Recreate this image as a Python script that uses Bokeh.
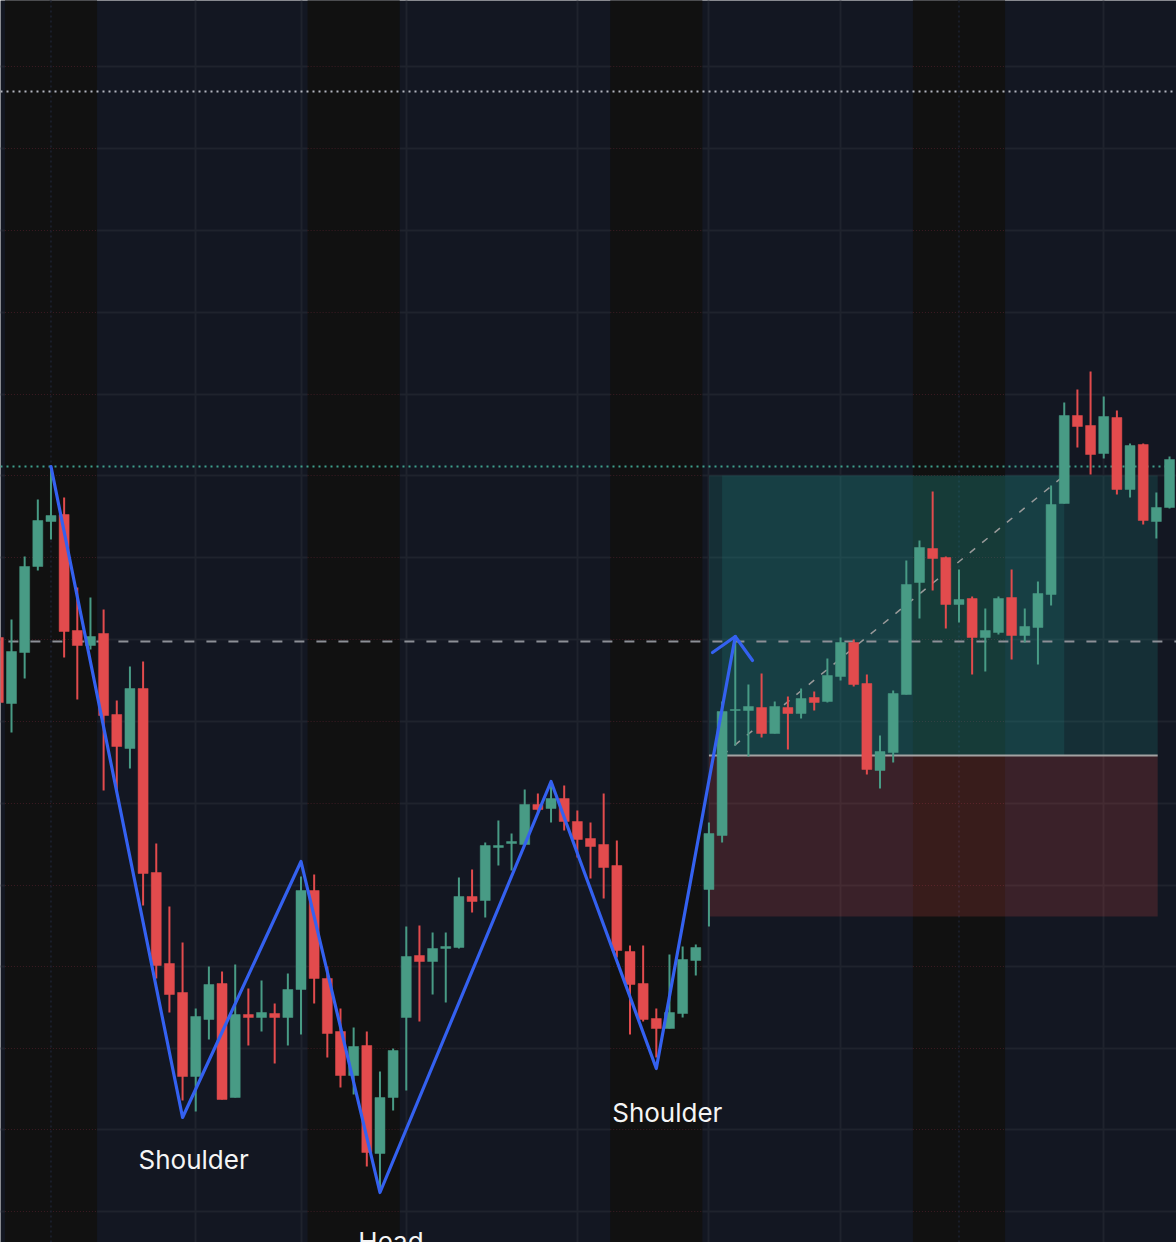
from bokeh.plotting import figure
from bokeh.models import Range1d, FixedTicker, ColumnDataSource
from bokeh.embed import file_html
from bokeh.resources import INLINE
from bokeh.core.properties import value

# ---------------- data ----------------
idx = list(range(-1, 89))
opens = [66.3, 59.7, 64.8, 73.4, 77.9, 78.6, 67.0, 65.5, 66.7, 58.6,
         55.2, 61.2, 42.8, 33.7, 30.8, 22.4, 28.1, 31.7, 20.3, 28.6,
         28.3, 28.7, 28.3, 31.1, 41.0, 32.2, 26.9, 22.5, 25.5, 14.7,
         20.3, 28.3, 34.5, 33.9, 35.2, 35.3, 40.4, 40.0, 45.3, 45.7,
         45.6, 49.6, 49.2, 50.2, 47.9, 46.2, 45.6, 43.5, 34.9, 31.7,
         28.2, 27.2, 28.7, 34.0, 41.1, 46.5, 59.0, 59.0, 59.3, 56.7,
         59.3, 58.7, 60.3, 59.9, 62.4, 65.8, 61.7, 53.0, 54.8, 60.6,
         71.8, 75.2, 74.3, 69.6, 70.2, 66.3, 66.8, 70.3, 66.5, 67.3,
         70.6, 79.7, 88.5, 87.5, 84.7, 88.3, 81.1, 85.6, 77.9, 79.3]
highs = [67.5, 68.1, 74.4, 80.1, 83.4, 80.3, 71.3, 70.3, 69.1, 60.0,
         63.4, 63.9, 45.7, 39.4, 35.8, 29.2, 33.4, 32.9, 33.6, 31.2,
         32.0, 29.7, 32.7, 42.4, 42.6, 33.4, 29.2, 27.3, 26.9, 22.9,
         25.2, 37.4, 37.5, 36.8, 36.8, 42.3, 43.1, 45.8, 48.0, 46.7,
         51.1, 50.7, 51.8, 51.5, 49.0, 47.8, 50.7, 46.0, 35.5, 35.5,
         29.2, 34.6, 35.4, 35.6, 47.8, 59.9, 66.5, 61.6, 62.7, 59.9,
         60.4, 61.2, 60.9, 64.2, 66.3, 66.1, 62.6, 56.5, 61.0, 74.0,
         76.0, 80.9, 74.4, 73.1, 70.4, 69.2, 70.4, 73.1, 69.2, 71.9,
         81.5, 89.8, 91.1, 92.9, 90.4, 89.0, 85.7, 85.7, 80.8, 84.4]
lows = [57.0, 56.8, 62.2, 73.0, 76.1, 64.3, 60.1, 65.1, 51.0, 50.8,
        53.2, 39.5, 32.2, 28.8, 20.0, 18.9, 26.1, 20.1, 20.3, 25.5,
        26.9, 23.7, 25.5, 26.6, 29.7, 24.3, 21.3, 20.6, 13.4, 10.9,
        19.0, 21.0, 27.9, 30.6, 29.8, 35.2, 38.8, 38.3, 43.5, 43.0,
        45.6, 48.7, 47.8, 47.0, 44.3, 42.2, 40.2, 34.3, 26.6, 27.9,
        24.3, 27.2, 28.3, 32.5, 37.4, 45.8, 55.5, 54.4, 56.3, 56.7,
        55.1, 58.2, 59.0, 59.8, 62.0, 61.4, 52.6, 51.2, 53.8, 60.6,
        68.2, 71.0, 67.2, 67.8, 62.6, 62.9, 66.6, 64.1, 65.8, 63.6,
        69.5, 79.7, 85.3, 82.6, 84.2, 80.6, 80.3, 77.6, 76.2, 79.2]
closes = [59.8, 64.9, 73.4, 78.0, 78.5, 66.9, 65.5, 66.4, 58.5, 55.4,
          61.2, 42.7, 33.5, 30.6, 22.4, 28.4, 31.6, 20.1, 28.6, 28.3,
          28.8, 28.3, 31.1, 41.0, 32.2, 26.7, 22.5, 25.4, 14.8, 20.3,
          25.0, 34.4, 33.9, 35.2, 35.4, 40.4, 39.9, 45.5, 45.5, 45.9,
          49.6, 49.1, 50.2, 47.9, 46.1, 45.4, 43.3, 35.0, 31.6, 28.1,
          27.2, 28.8, 34.1, 35.3, 46.7, 58.9, 59.1, 59.4, 56.7, 59.4,
          58.7, 60.2, 59.8, 62.5, 65.8, 61.6, 53.1, 54.9, 60.7, 71.6,
          75.3, 74.2, 69.6, 70.1, 66.3, 67.0, 70.2, 66.5, 67.4, 70.7,
          79.6, 88.5, 87.4, 84.6, 88.4, 81.1, 85.5, 78.0, 79.3, 84.1]

# zigzag pivots of the head & shoulders pattern
zz_idx = [3, 13, 22, 28, 41, 49, 55]
zz_price = [83.4, 18.3, 43.9, 10.8, 51.9, 23.2, 66.4]
arrow_idx = [53.27, 55.0, 56.31]
arrow_price = [64.8, 66.4, 64.0]

labels = ["Shoulder", "Head", "Shoulder"]
label_idx = [13, 28, 49]
label_price = [14.1, 5.9, 18.8]

# horizontal levels
level_high = 120.9
level_prior = 83.4
neckline = 65.9

# position box
box_left, box_right = 53, 87.1
inner_left, inner_right = 54, 80
target, entry, stop = 82.5, 54.5, 38.4

# session shading (candle index ranges)
band_start = [0, 23, 46, 69]
band_end = [6, 29, 52, 75]

# grid positions
vgrid_idx = [3, 14, 22, 30, 43, 53, 63, 72, 83]
hgrid_price = [123.4, 115.2, 107.0, 98.8, 90.6, 82.5, 74.3, 66.1, 57.9,
               49.7, 41.5, 33.4, 25.2, 17.1, 8.9]

# ---------------- styling ----------------
BG = "#131722"
BAND = "#111111"
UP = "#489b85"
DOWN = "#e24b4d"
GRID = "#1f232d"

x0, x1 = -0.836, 88.53
y0, y1 = 5.8, 130.0

p = figure(width=1176, height=1242, x_range=Range1d(x0, x1), y_range=Range1d(y0, y1),
           output_backend="svg", toolbar_location=None,
           x_axis_location=None, y_axis_location=None, min_border=0)
p.background_fill_color = BG
p.border_fill_color = BG
p.outline_line_color = None

p.xgrid.ticker = FixedTicker(ticks=vgrid_idx)
p.ygrid.ticker = FixedTicker(ticks=hgrid_price)
for g in (p.xgrid, p.ygrid):
    g.grid_line_color = GRID
    g.grid_line_width = 2

# dark session bands
bl = [s - 0.5 for s in band_start]
br = [e + 0.5 for e in band_end]
p.quad(left=bl, right=br, bottom=y0 - 10, top=y1 + 10, fill_color=BAND, line_color=None)

# dotted grid inside bands
hx0, hx1, hy = [], [], []
for a, b in zip(bl, br):
    for gp in hgrid_price:
        hx0.append(a); hx1.append(b); hy.append(gp)
p.segment(x0=hx0, y0=hy, x1=hx1, y1=hy, line_color="#3d1c24", line_width=1, line_dash="1 2")
vin = [v for v in vgrid_idx if any(a <= v <= b for a, b in zip(bl, br))]
p.segment(x0=vin, y0=[y0] * len(vin), x1=vin, y1=[y1] * len(vin),
          line_color="#1d2333", line_width=1.5, line_dash="2 3")

# position boxes
p.quad(left=[box_left], right=[box_right], bottom=[entry], top=[target],
       fill_color="#26a69a", fill_alpha=0.17, line_color=None)
p.quad(left=[inner_left], right=[inner_right], bottom=[entry], top=[target],
       fill_color="#26a69a", fill_alpha=0.14, line_color=None)
p.quad(left=[box_left], right=[box_right], bottom=[stop], top=[entry],
       fill_color="#ef5350", fill_alpha=0.18, line_color=None)
p.segment(x0=[box_left], y0=[entry], x1=[box_right], y1=[entry], line_color="#a3a3a3", line_width=2)
p.segment(x0=[inner_left], y0=[entry], x1=[inner_right], y1=[target],
          line_color="#9a9a9a", line_width=1.5, line_dash="7 9")

# horizontal levels
p.segment(x0=[x0], y0=[level_high], x1=[x1], y1=[level_high], line_color="#b2b5be", line_width=2, line_dash="2 4")
p.segment(x0=[x0], y0=[level_prior], x1=[x1], y1=[level_prior], line_color="#3e9f8c", line_width=2, line_dash="2 4")
p.segment(x0=[x0 + 0.6], y0=[neckline], x1=[x1], y1=[neckline], line_color="#8d9097", line_width=2, line_dash="10 12")

# candles
cols = [UP if c >= o else DOWN for o, c in zip(opens, closes)]
src = ColumnDataSource(dict(x=idx, o=opens, h=highs, l=lows, c=closes,
                            top=[max(o, c) for o, c in zip(opens, closes)],
                            bot=[min(o, c) for o, c in zip(opens, closes)],
                            col=cols))
p.segment(x0="x", y0="l", x1="x", y1="h", line_color="col", line_width=2, source=src)
p.vbar(x="x", width=0.76, top="top", bottom="bot", fill_color="col", line_color="col", line_width=0.5, source=src)

# pattern zigzag and arrow
p.line(zz_idx, zz_price, line_color="#3461f0", line_width=3.2, line_join="round", line_cap="round")
p.line(arrow_idx, arrow_price, line_color="#3461f0", line_width=3.2, line_join="round", line_cap="round")

# labels
p.text(x=label_idx, y=label_price, text=labels, x_offset=11, text_align="center",
       text_baseline="alphabetic", text_font=value("Inter"), text_font_size="26px",
       text_color="#f5f5f5")

open("out.html", "w").write(file_html(p, INLINE))
